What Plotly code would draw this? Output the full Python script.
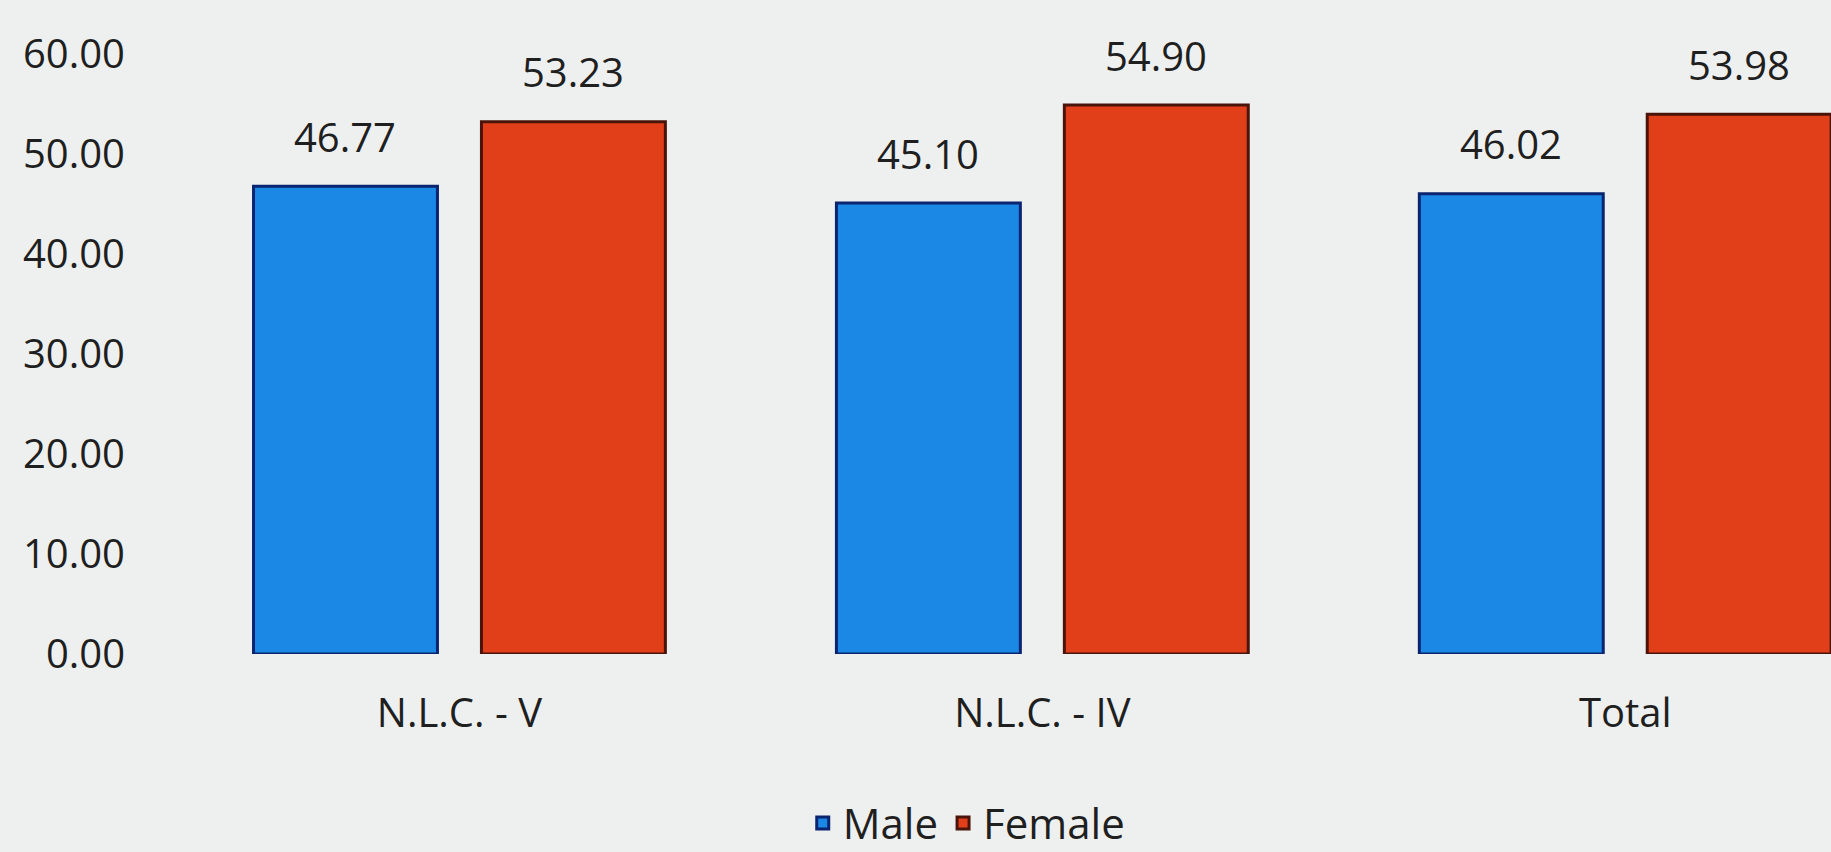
import plotly.graph_objects as go

categories = ["N.L.C. - V", "N.L.C. - IV", "Total"]
male = [46.77, 45.10, 46.02]
female = [53.23, 54.90, 53.98]
y_ticks = [0, 10, 20, 30, 40, 50, 60]
y_tick_labels = ["0.00", "10.00", "20.00", "30.00", "40.00", "50.00", "60.00"]

FONT = "Open Sans"
TXT = "#1f1f1f"
fig = go.Figure()
fig.add_trace(go.Bar(name="Male", x=categories, y=male,
                     marker=dict(color="#1a88e4", line=dict(color="#0a2470", width=3))))
fig.add_trace(go.Bar(name="Female", x=categories, y=female,
                     marker=dict(color="#e03f1a", line=dict(color="#4a140a", width=3))))

annotations = []
for i, c in enumerate(categories):
    for vals, shift in ((male, -114), (female, 114)):
        annotations.append(dict(x=c, y=vals[i], xref="x", yref="y", text=f"{vals[i]:.2f}",
                                showarrow=False, xshift=shift, yshift=50,
                                font=dict(family=FONT, size=40, color=TXT)))

fig.update_layout(
    width=1831, height=852,
    margin=dict(l=168, r=0, t=54, b=198, autoexpand=False),
    paper_bgcolor="#eef0f0", plot_bgcolor="#eef0f0",
    barmode="group", bargap=0.218, bargroupgap=0.193,
    font=dict(family=FONT, size=40, color=TXT),
    annotations=annotations,
    showlegend=True,
    legend=dict(orientation="h", x=0.48, xanchor="center", y=-0.282, yanchor="middle",
                font=dict(family=FONT, size=42, color=TXT), bgcolor="rgba(0,0,0,0)"),
    xaxis=dict(range=[-0.5, 2.353], showgrid=False, showline=False, zeroline=False,
               ticks="", ticklabelstandoff=32, tickfont=dict(family=FONT, size=40, color=TXT)),
    yaxis=dict(range=[0, 60], tickvals=y_ticks, ticktext=y_tick_labels, showgrid=False,
               zeroline=False, showline=False, ticks="", ticklabelstandoff=42,
               tickfont=dict(family=FONT, size=40, color=TXT)),
)
fig.write_html("out.html", config={"displayModeBar": False},
               post_script="document.body.style.margin='0';document.body.style.background='#eef0f0';")
